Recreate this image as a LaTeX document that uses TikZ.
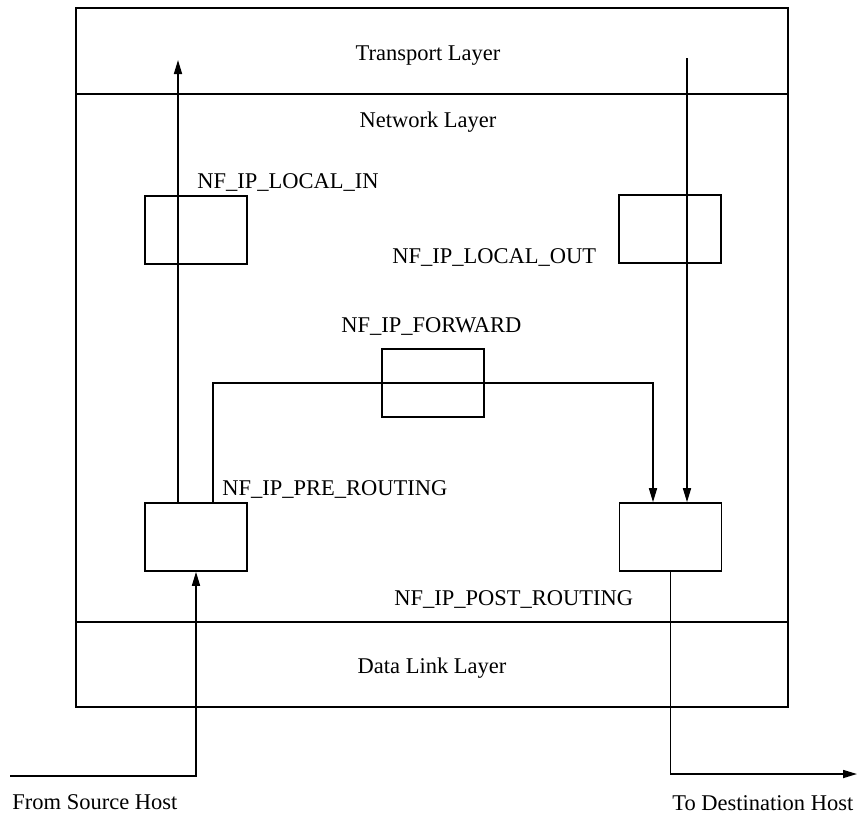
\documentclass[tikz,border=0pt]{standalone}
\usepackage{fontspec}
\setmainfont{Liberation Serif}
\usetikzlibrary{arrows.meta}
\begin{document}
\begin{tikzpicture}[x=0.5pt,y=-0.5pt,
  every node/.style={font=\fontsize{11.25}{13}\selectfont},
  frame/.style={line width=0.8pt},
  hookbox/.style={draw,line width=0.8pt,minimum width=51pt,minimum height=34pt,inner sep=0pt},
  lbl/.style={anchor=base west,inner sep=0pt},
  layer/.style={anchor=base,inner sep=0pt},
  conn/.style={line width=0.8pt},
  arr/.style={line width=0.8pt,-{Triangle[length=7pt,width=4pt]}}]
\useasboundingbox (0,0) rectangle (866,814);
% layers
\draw[frame] (76,8) rectangle (788,707);
\draw[frame] (76,94) -- (788,94);
\draw[frame] (76,622) -- (788,622);
\node[layer] (transport) at (428,60) {Transport Layer};
\node[layer] (network) at (428,127) {Network Layer};
\node[layer] (datalink) at (432,673) {Data Link Layer};
% hook boxes
\node[hookbox] (localin) at (196,230) {};
\node[hookbox] (localout) at (670,229) {};
\node[hookbox] (forward) at (433,383) {};
\node[hookbox] (pre) at (196,537) {};
\node[hookbox] (post) at (670.5,537) {};
% labels
\node[lbl] (llocalin) at (197,188) {NF\_IP\_LOCAL\_IN};
\node[lbl] (llocalout) at (392,263) {NF\_IP\_LOCAL\_OUT};
\node[lbl] (lforward) at (341,332) {NF\_IP\_FORWARD};
\node[lbl] (lpre) at (222,495) {NF\_IP\_PRE\_ROUTING};
\node[lbl] (lpost) at (394,605) {NF\_IP\_POST\_ROUTING};
\node[lbl] (lsrc) at (12,809) {From Source Host};
\node[lbl] (ldst) at (672,810) {To Destination Host};
% coordinates
\coordinate (tin) at (178,60);
\coordinate (tout) at (687,58);
\coordinate (fwdL) at (213,383);
\coordinate (fwdR) at (653,383);
\coordinate (src) at (10,776);
\coordinate (dst) at (857,774);
% connectors
\draw[arr] (tin |- pre.north) -- (tin);
\draw[arr] (tout) -- (tout |- post.north);
\draw[arr] (fwdL |- pre.north) -- (fwdL) -- (fwdR) -- (fwdR |- post.north);
\draw[arr] (src) -| (pre.south);
\draw[arr] (post.south) |- (dst);
\end{tikzpicture}
\end{document}
